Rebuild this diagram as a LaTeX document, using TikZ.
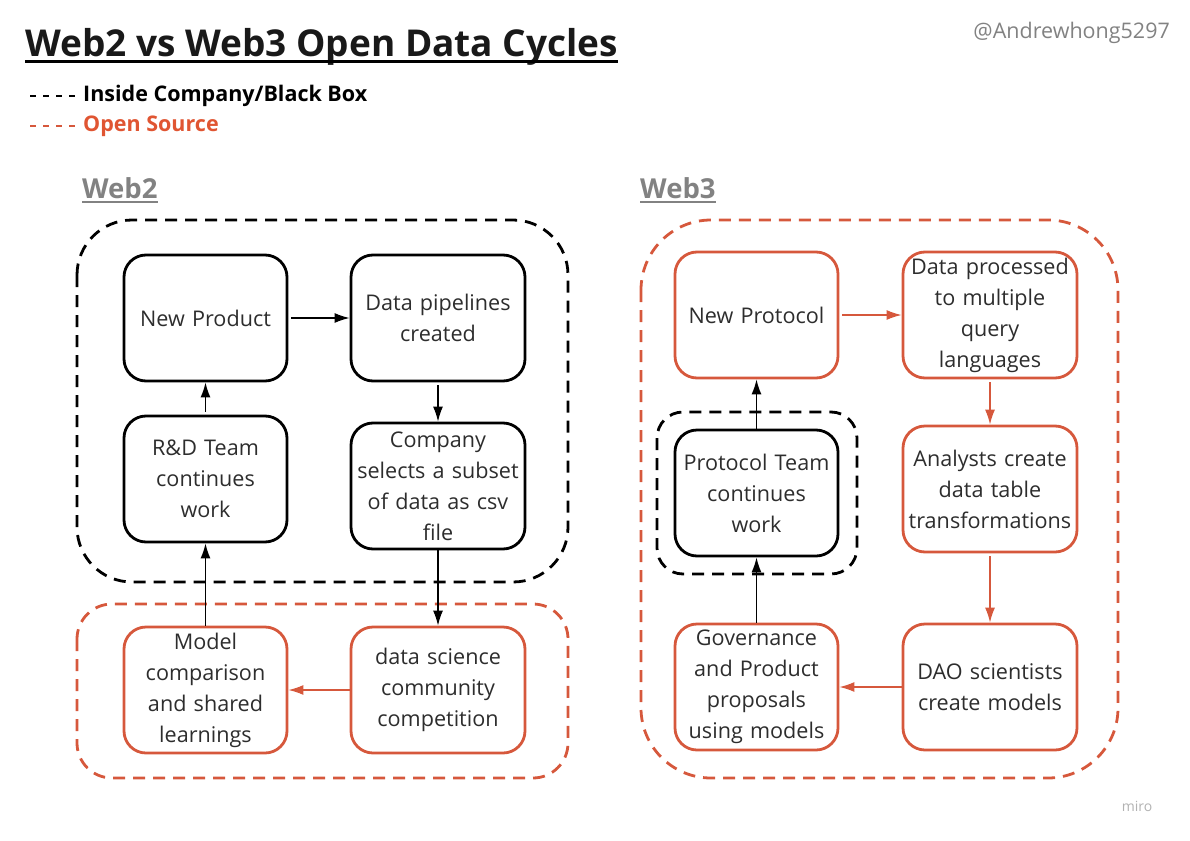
\documentclass[tikz,border=0pt]{standalone}
\usepackage{fontspec}
\setmainfont{Open Sans}
\usetikzlibrary{arrows.meta}
\definecolor{orng}{RGB}{214,88,60}
\definecolor{orngtxt}{RGB}{224,85,50}
\definecolor{txt}{RGB}{45,45,45}
\definecolor{web}{RGB}{130,130,130}
\begin{document}
\begin{tikzpicture}[x=1pt,y=-1pt,
  box/.style={draw, line width=2.8pt, rounded corners=22pt, minimum height=126pt,
    align=center, inner sep=0pt, text=txt, font=\fontsize{21.6}{31}\selectfont},
  lbox/.style={box, minimum width=163pt, text width=160pt},
  rbox/.style={box, minimum width=174pt, text width=172pt},
  blk/.style={draw=black},
  org/.style={draw=orng},
  cont/.style={line width=2.8pt, dash pattern=on 12pt off 8pt},
  arr/.style={line width=1.4pt, -{Latex[length=15pt,width=10pt]}},
]
\useasboundingbox (0,0) rectangle (1190,840);
% title
\node[anchor=base west, inner sep=0pt, font=\fontsize{37}{42}\selectfont\bfseries, text=black!90] (title) at (25,57) {Web2 vs Web3 Open Data Cycles};
\draw[line width=3pt] ([yshift=-5pt]title.base west) -- ([yshift=-5pt]title.base east);
\node[anchor=east, inner sep=0pt, font=\fontsize{21.5}{24}\selectfont, text=web] (handle) at (1170,33) {@Andrewhong5297};
% legend
\coordinate (l1a) at (30,96); \coordinate (l1b) at (76,96);
\coordinate (l2a) at (30,126); \coordinate (l2b) at (76,126);
\draw[line width=1.6pt, dash pattern=on 6pt off 7pt] (l1a) -- (l1b);
\draw[line width=1.6pt, orng, dash pattern=on 6pt off 7pt] (l2a) -- (l2b);
\node[anchor=west, inner sep=0pt, font=\fontsize{21.5}{24}\selectfont\bfseries] (leg1) at (83,96) {Inside Company/Black Box};
\node[anchor=west, inner sep=0pt, font=\fontsize{21.5}{24}\selectfont\bfseries, text=orngtxt] (leg2) at (83,126) {Open Source};
% section headings
\node[anchor=base west, inner sep=0pt, font=\fontsize{27.5}{30}\selectfont\bfseries, text=web] (w2) at (82,198) {Web2};
\draw[web, line width=2pt] ([yshift=-4pt]w2.base west) -- ([yshift=-4pt]w2.base east);
\node[anchor=base west, inner sep=0pt, font=\fontsize{27.5}{30}\selectfont\bfseries, text=web] (w3) at (640,198) {Web3};
\draw[web, line width=2pt] ([yshift=-4pt]w3.base west) -- ([yshift=-4pt]w3.base east);
% containers
\draw[cont, rounded corners=55pt] (77,220) rectangle (568,582);
\draw[cont, orng, rounded corners=35pt] (77,604) rectangle (568,778);
\draw[cont, orng, rounded corners=70pt] (641,220) rectangle (1118,778);
\draw[cont, rounded corners=26pt] (657,412) rectangle (857,574);
% Web2 boxes
\node[lbox, blk] (np) at (205.5,318) {New Product};
\node[rbox, blk] (dp) at (438,318) {Data pipelines\\created};
\node[lbox, blk] (rd) at (205.5,479) {R\&D Team\\continues\\work};
\node[rbox, blk] (co) at (438,486) {Company\\selects a subset\\of data as csv\\file};
\node[lbox, org] (mc) at (205.5,690) {Model\\comparison\\and shared\\learnings};
\node[rbox, org] (ds) at (438,690) {data science\\community\\competition};
% Web3 boxes
\node[lbox, org] (npr) at (756.5,315) {New Protocol};
\node[rbox, org] (dpr) at (990,315) {Data processed\\to multiple\\query\\languages};
\node[rbox, org] (an) at (990,489) {Analysts create\\data table\\transformations};
\node[rbox, org] (dao) at (990,687) {DAO scientists\\create models};
\node[lbox, org] (gv) at (756.5,687) {Governance\\and Product\\proposals\\using models};
\node[lbox, blk] (pt) at (756.5,493) {Protocol Team\\continues\\work};
% Web2 arrows
\draw[arr, shorten <=3pt] (np.east) -- (dp.west);
\draw[arr, shorten <=3pt] (dp.south) -- (co.north);
\draw[arr, shorten <=3pt] (rd.north) -- (np.south);
\draw[arr] (co.south) -- (ds.north);
\draw[arr, orng] (ds.west) -- (mc.east);
\draw[arr] (mc.north) -- (rd.south);
% Web3 arrows
\draw[arr, orng, shorten <=3pt] (npr.east) -- (dpr.west);
\draw[arr, orng, shorten <=3pt] (dpr.south) -- (an.north);
\draw[arr, orng, shorten <=3pt] (an.south) -- (dao.north);
\draw[arr, orng] (dao.west) -- (gv.east);
\draw[arr] (gv.north) -- (pt.south);
\draw[arr] (pt.north) -- (npr.south);
% watermark
\node[inner sep=0pt, font=\fontsize{14}{16}\selectfont, text=black!30] (miro) at (1137,806) {miro};
\end{tikzpicture}
\end{document}
